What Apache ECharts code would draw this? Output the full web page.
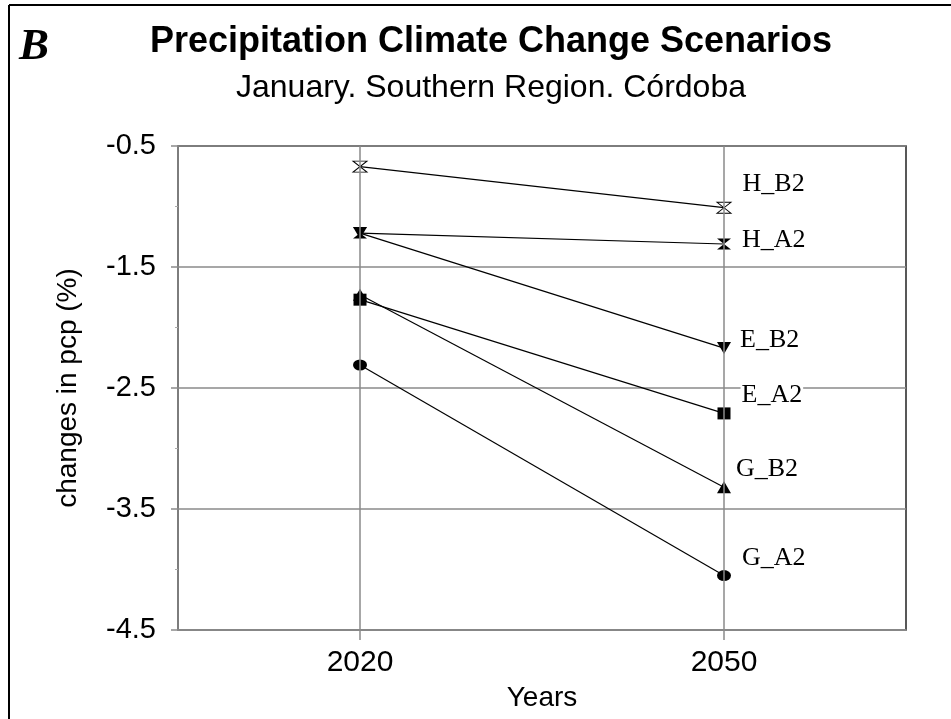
<!DOCTYPE html>
<html>
<head>
<meta charset="utf-8">
<script src="https://cdn.jsdelivr.net/npm/echarts@6/dist/echarts.min.js"></script>
<style>
  html, body { margin: 0; padding: 0; background: #fff; }
  #chart { width: 951px; height: 719px; }
</style>
</head>
<body>
<div id="chart"></div>
<script>
// Scenario projections of January precipitation change (%), Southern Region, Córdoba
const years = ['2020', '2050'];
const yTicks = [-4.5, -3.5, -2.5, -1.5, -0.5];

const seriesNames = ['H_B2', 'H_A2', 'E_B2', 'E_A2', 'G_B2', 'G_A2'];
const hB2 = [-0.67, -1.01];
const hA2 = [-1.22, -1.31];
const eB2 = [-1.22, -2.17];
const eA2 = [-1.77, -2.71];
const gB2 = [-1.73, -3.32];
const gA2 = [-2.31, -4.05];

// Marker shapes per scenario
const hourglass = 'path://M0,0 L10,0 L0,10 L10,10 Z';
const styles = {
  H_B2: { symbol: hourglass, size: [14, 11], fill: '#fff', offset: [4, -24] },
  H_A2: { symbol: hourglass, size: [14, 11], fill: '#000', offset: [4, -4] },
  E_B2: { symbol: 'triangle', size: [14, 12], fill: '#000', offset: [2, -8], rotate: 180 },
  E_A2: { symbol: 'rect', size: [13, 12], fill: '#000', offset: [4, -18] },
  G_B2: { symbol: 'triangle', size: [14, 12], fill: '#000', offset: [-2, -18] },
  G_A2: { symbol: 'circle', size: [14, 11], fill: '#000', offset: [4, -17] }
};
const values = { H_B2: hB2, H_A2: hA2, E_B2: eB2, E_A2: eA2, G_B2: gB2, G_A2: gA2 };

const chart = echarts.init(document.getElementById('chart'), null, { renderer: 'canvas' });

const lineSeries = seriesNames.map(name => {
  const s = styles[name];
  return {
    name: name,
    type: 'line',
    z: 3,
    data: values[name],
    symbol: s.symbol,
    symbolSize: s.size,
    symbolRotate: s.rotate || 0,
    symbolKeepAspect: false,
    showAllSymbol: true,
    lineStyle: { color: '#000', width: 1.2 },
    itemStyle: { color: s.fill, borderColor: '#000', borderWidth: s.fill === '#fff' ? 1 : 0 },
    label: {
      show: true,
      position: 'right',
      distance: 6,
      offset: s.offset,
      formatter: p => (p.dataIndex === years.length - 1 ? name : ''),
      fontFamily: 'Liberation Serif',
      fontSize: 26,
      color: '#000',
      backgroundColor: '#fff',
      padding: [0, 1]
    },
    emphasis: { disabled: true },
    animation: false
  };
});

// Vertical gridlines at each year, kept behind the scenario lines
const gridSeries = {
  type: 'line',
  z: 1,
  data: [null, null],
  silent: true,
  markLine: {
    silent: true,
    symbol: ['none', 'none'],
    label: { show: false },
    lineStyle: { color: '#8a8a8a', width: 1.5, type: 'solid' },
    data: years.map(y => ({ xAxis: y }))
  },
  animation: false
};

chart.setOption({
  animation: false,
  backgroundColor: '#fff',
  title: [
    {
      text: 'Precipitation Climate Change Scenarios',
      left: 486, top: 19, textAlign: 'center',
      textStyle: { fontFamily: 'Liberation Sans', fontWeight: 'bold', fontSize: 36, color: '#000' }
    },
    {
      text: 'January. Southern Region. Córdoba',
      left: 486, top: 67, textAlign: 'center',
      textStyle: { fontFamily: 'Liberation Sans', fontWeight: 'normal', fontSize: 32, color: '#000' }
    }
  ],
  graphic: [
    { type: 'line', shape: { x1: 9, y1: 5, x2: 951, y2: 5 }, style: { stroke: '#000', lineWidth: 2 }, silent: true },
    { type: 'line', shape: { x1: 9, y1: 5, x2: 9, y2: 719 }, style: { stroke: '#000', lineWidth: 2 }, silent: true },
    {
      type: 'text', left: 19, top: 25, silent: true,
      style: { text: 'B', font: 'italic bold 45px "Liberation Serif"', fill: '#000' }
    }
  ],
  grid: {
    left: 178, right: 45, top: 146, bottom: 89,
    show: true, borderColor: '#222', borderWidth: 1.5, backgroundColor: 'transparent'
  },
  xAxis: {
    type: 'category',
    data: years,
    boundaryGap: true,
    name: 'Years',
    nameLocation: 'middle',
    nameGap: 54,
    nameTextStyle: { fontFamily: 'Liberation Sans', fontSize: 28, color: '#000' },
    axisLine: { show: true, lineStyle: { color: '#8a8a8a', width: 1.5 } },
    axisTick: { show: true, alignWithLabel: true, length: 10, lineStyle: { color: '#8a8a8a', width: 1.5 } },
    axisLabel: { fontFamily: 'Liberation Sans', fontSize: 30, color: '#000', margin: 18 },
    splitLine: { show: false }
  },
  yAxis: {
    type: 'value',
    min: yTicks[0],
    max: yTicks[yTicks.length - 1],
    interval: 1,
    name: 'changes in pcp (%)',
    nameLocation: 'middle',
    nameGap: 96,
    nameTextStyle: { fontFamily: 'Liberation Sans', fontSize: 28, color: '#000' },
    axisLine: { show: true, lineStyle: { color: '#8a8a8a', width: 1.5 } },
    axisTick: { show: true, length: 7, lineStyle: { color: '#8a8a8a', width: 1.5 } },
    minorTick: { show: true, splitNumber: 2, length: 3, lineStyle: { color: '#aaa', width: 1 } },
    axisLabel: {
      fontFamily: 'Liberation Sans', fontSize: 29, color: '#000', margin: 22,
      formatter: v => v.toFixed(1)
    },
    splitLine: { show: true, lineStyle: { color: '#8a8a8a', width: 1.5 } }
  },
  series: [gridSeries].concat(lineSeries)
});
</script>
</body>
</html>
